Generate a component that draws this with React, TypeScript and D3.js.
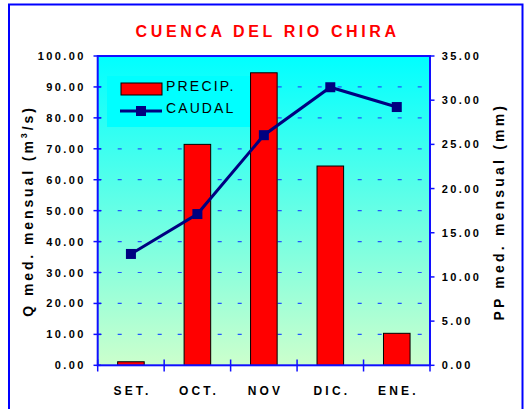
import React from "react";
import * as d3 from "d3";

const categories = ["SET.", "OCT.", "NOV", "DIC.", "ENE."];
const precip = [0.4, 25.0, 33.1, 22.55, 3.62]; // PP (mm) - right axis
const caudal = [36.0, 48.9, 74.4, 89.9, 83.5]; // Q (m3/s) - left axis
const leftTicks = [0, 10, 20, 30, 40, 50, 60, 70, 80, 90, 100];
const rightTicks = [0, 5, 10, 15, 20, 25, 30, 35];

const W = 524;
const H = 409;
const FONT = "'Liberation Sans', Arial, Helvetica, sans-serif";

export default function App() {
  const x0 = 97.7, x1 = 430, y0 = 56, y1 = 365.3;
  const yL = d3.scaleLinear().domain([0, 100]).range([y1, y0]);
  const yR = d3.scaleLinear().domain([0, 35]).range([y1, y0]);
  const x = d3.scaleBand<string>().domain(categories).range([x0, x1]).paddingInner(0.6).paddingOuter(0.3);
  const bw = x.bandwidth();
  const step = x.step();
  const cx = (c: string) => (x(c) as number) + bw / 2;

  const lineGen = d3.line<number>().x((_, i) => cx(categories[i])).y((d) => yL(d));
  const boundaries = [x0, ...categories.map((c) => cx(c) + step / 2)];

  const axisColor = "#1010FF";
  const tickLs = 2.4;
  const titleLs = 3.6;

  return (
    <svg width={W} height={H} style={{ position: "absolute", left: 0, top: 0 }} fontFamily={FONT}>
      <defs>
        <linearGradient id="bg" x1="0" y1="0" x2="0" y2="1">
          <stop offset="0" stopColor="#00FFFF" />
          <stop offset="1" stopColor="#CCFFCC" />
        </linearGradient>
      </defs>
      <rect x={0} y={0} width={W} height={H} fill="#fff" />
      <rect x={9} y={4.5} width={513.5} height={420} fill="none" stroke="#0000FF" strokeWidth={2} />

      <text x={265.8 + titleLs / 2} y={36.7} textAnchor="middle" fill="#FF0000" fontWeight="bold" fontSize={16} style={{ letterSpacing: titleLs }}>
        CUENCA DEL RIO CHIRA
      </text>

      {/* plot area */}
      <rect x={x0} y={y0} width={x1 - x0} height={y1 - y0} fill="url(#bg)" />

      {/* gridlines */}
      {leftTicks.filter((t) => t > 0 && t < 100).map((t) => (
        <line key={"g" + t} x1={x0} x2={x1} y1={yL(t)} y2={yL(t)} stroke="#2255FF" strokeWidth={1.2} strokeDasharray="4,16" />
      ))}

      {/* legend box */}
      <rect x={107} y={76} width={143} height={51} fill="#00FFFF" />
      <rect x={121} y={83} width={41} height={12} fill="#FF0000" stroke="#000" strokeWidth={1} />
      <text x={166} y={91} fontSize={14} fill="#000" style={{ letterSpacing: 2.2 }}>PRECIP.</text>
      <line x1={120} x2={162} y1={111} y2={111} stroke="#000080" strokeWidth={3} />
      <rect x={136} y={106} width={10} height={10} fill="#000080" />
      <text x={166} y={113} fontSize={14} fill="#000" style={{ letterSpacing: 2.1 }}>CAUDAL</text>

      {/* bars */}
      {precip.map((v, i) => (
        <rect key={"b" + i} x={x(categories[i])} y={yR(v)} width={bw} height={y1 - yR(v)} fill="#FF0000" stroke="#000" strokeWidth={1} />
      ))}

      {/* line */}
      <path d={lineGen(caudal) || ""} fill="none" stroke="#000080" strokeWidth={3} />
      {caudal.map((v, i) => (
        <rect key={"m" + i} x={cx(categories[i]) - 5} y={yL(v) - 5} width={10} height={10} fill="#000080" />
      ))}

      {/* plot border / axes */}
      <rect x={x0} y={y0} width={x1 - x0} height={y1 - y0} fill="none" stroke={axisColor} strokeWidth={2} />

      {/* left axis ticks + labels */}
      {leftTicks.map((t) => (
        <g key={"l" + t}>
          <line x1={93.5} x2={101} y1={yL(t)} y2={yL(t)} stroke={axisColor} strokeWidth={1.5} />
          <text x={83.3 + tickLs} y={yL(t) + 4} textAnchor="end" fontSize={11} fontWeight="bold" fill="#000" style={{ letterSpacing: tickLs }}>
            {d3.format(".2f")(t)}
          </text>
        </g>
      ))}

      {/* right axis ticks + labels */}
      {rightTicks.map((t) => (
        <g key={"r" + t}>
          <line x1={x1} x2={434.5} y1={yR(t)} y2={yR(t)} stroke={axisColor} strokeWidth={1.5} />
          <text x={441.7} y={yR(t) + 4} textAnchor="start" fontSize={11} fontWeight="bold" fill="#000" style={{ letterSpacing: tickLs }}>
            {d3.format(".2f")(t)}
          </text>
        </g>
      ))}

      {/* x axis ticks */}
      {boundaries.map((b, i) => (
        <line key={"xt" + i} x1={b} x2={b} y1={359.5} y2={371.5} stroke={axisColor} strokeWidth={1.5} />
      ))}
      {categories.map((c) => (
        <text key={"xl" + c} x={cx(c) + 1.6} y={395} textAnchor="middle" fontSize={12} fontWeight="bold" fill="#000" style={{ letterSpacing: 3.2 }}>
          {c}
        </text>
      ))}

      {/* axis titles */}
      <text transform="translate(33,211) rotate(-90)" textAnchor="middle" fontSize={14} fontWeight="bold" fill="#000" style={{ letterSpacing: 2.9 }}>
        Q med. mensual (m<tspan fontSize={9} dy={-6}>3</tspan><tspan dy={6}>/s)</tspan>
      </text>
      <text transform="translate(504,211.7) rotate(-90)" textAnchor="middle" fontSize={14} fontWeight="bold" fill="#000" style={{ letterSpacing: 3.2 }}>
        PP med. mensual (mm)
      </text>
    </svg>
  );
}
